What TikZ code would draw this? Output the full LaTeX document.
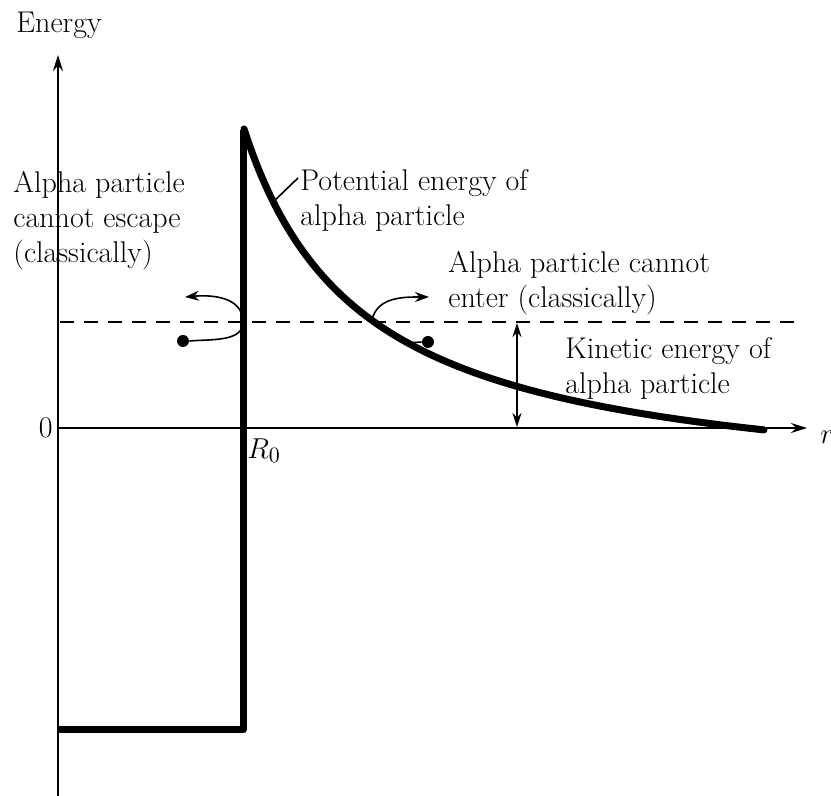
\documentclass[tikz,border=0pt]{standalone}
\usetikzlibrary{arrows.meta}
\begin{document}
\begin{tikzpicture}[x=0.5pt,y=-0.5pt,
  axis/.style={line width=1pt},
  thickline/.style={line width=3.5pt,line join=round},
  thinarrow/.style={line width=0.8pt},
  lbl/.style={font=\fontsize{15}{17.5}\selectfont,align=left,inner sep=0pt},
  ptc/.style={circle,fill=black,inner sep=0pt,minimum size=6pt}]
\useasboundingbox (0,0) rectangle (831,796);
% axes
\coordinate (ybot) at (58,796);
\coordinate (ytop) at (58,55);
\coordinate (xend) at (807,428);
\coordinate (orig) at (58,428);
\draw[axis,-{Stealth[length=8pt,width=5pt]}] (ybot) -- (ytop);
\draw[axis,-{Stealth[length=8pt,width=5pt]}] (orig) -- (xend);
\node[lbl,anchor=center] (energy) at (59,25) {Energy};
\node[lbl,anchor=east] (zero) at (53,428) {0};
\node[lbl,anchor=west] (r) at (820,437) {$r$};
\node[lbl] (R0) at (264,451) {$R_0$};
% well and wall
\draw[thickline] (58,730) -- (243,730) -- (243,130);
% potential curve
\draw[thickline,line cap=round] plot[domain=244:764,samples=120,smooth]
  (\x,{428-(441.86/((\x-124.6)/100)-71)});
% dashed energy level
\coordinate (dl) at (60,322);
\coordinate (dr) at (800,322);
\draw[line width=1.2pt,dash pattern=on 7pt off 5pt] (dl) -- (dr);
% kinetic energy arrow
\coordinate (ka) at (517,323);
\coordinate (kb) at (517,427);
\draw[thinarrow,{Stealth[length=7pt,width=4.5pt]}-{Stealth[length=7pt,width=4.5pt]}] (ka) -- (kb);
% particles
\node[ptc] (lp) at (183,341) {};
\node[ptc] (rp) at (428,342) {};
\coordinate (rpc) at (405,343);
\draw[thinarrow] (rp.west) -- (rpc);
% curved arrows
\coordinate (lturn) at (243,320);
\coordinate (ltip) at (185,297);
\draw[thinarrow,-{Stealth[length=7pt,width=5pt]}] (lp.east) to[out=5,in=-85] (lturn) to[out=95,in=5] (ltip);
\coordinate (rstart) at (372,320);
\coordinate (rtip) at (429,297);
\draw[thinarrow,-{Stealth[length=7pt,width=5pt]}] (rstart) to[out=78,in=180] (rtip);
% labels
\node[lbl,anchor=north west] (esc) at (13,171) {Alpha particle\\cannot escape\\(classically)};
\node[lbl,anchor=north west] (pot) at (300,169) {Potential energy of\\alpha particle};
\coordinate (potend) at (298,178);
\coordinate (potcurve) at (271,204);
\draw[thinarrow] (potcurve) -- (potend);
\node[lbl,anchor=north west] (ent) at (448,251) {Alpha particle cannot\\enter (classically)};
\node[lbl,anchor=north west] (kin) at (565,337) {Kinetic energy of\\alpha particle};
\end{tikzpicture}
\end{document}
